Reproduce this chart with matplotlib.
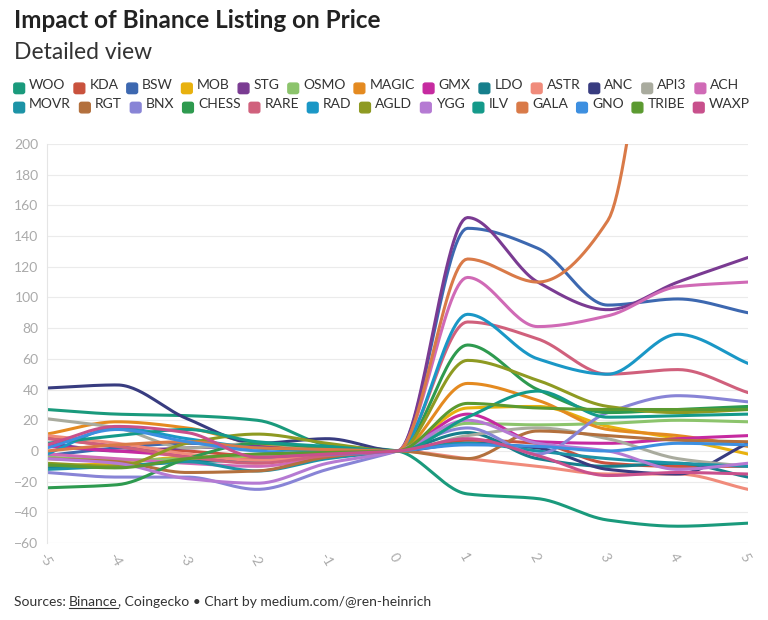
import numpy as np
import matplotlib.pyplot as plt
from matplotlib.patches import FancyBboxPatch

plt.rcParams['font.family'] = 'Lato'

days = [-5, -4, -3, -2, -1, 0, 1, 2, 3, 4, 5]

names = ['WOO', 'KDA', 'BSW', 'MOB', 'STG', 'OSMO', 'MAGIC', 'GMX', 'LDO', 'ASTR', 'ANC', 'API3', 'ACH',
         'MOVR', 'RGT', 'BNX', 'CHESS', 'RARE', 'RAD', 'AGLD', 'YGG', 'ILV', 'GALA', 'GNO', 'TRIBE', 'WAXP']
colors = ['#1a9a7c', '#c9523d', '#3d68b0', '#e8b10e', '#7a3b92', '#8cc46c', '#e48a20', '#c62aa0', '#167f8c',
          '#f08b7b', '#383c80', '#a9ab9e', '#d06ab6', '#1c93a6', '#b3703d', '#8884d6', '#2e9a4f', '#d0607c',
          '#1a97c6', '#8e9a22', '#b57ad3', '#149a8a', '#d97a48', '#3d8fe0', '#5b9a30', '#c8508c']

# % price change relative to listing day
woo = [27, 24, 23, 20, 4, 0, -28, -31, -45, -49, -47]
kda = [9, 3, 0, -3, -2, 0, 7, 5, -8, -10, -10]
bsw = [-3, 2, 5, 2, 0, 0, 145, 132, 95, 99, 90]
mob = [-10, -8, -4, -5, -3, 0, 28, 29, 16, 8, -2]
stg = [5, 0, 2, 3, 2, 0, 152, 110, 92, 110, 126]
osmo = [-4, -6, -5, -3, -2, 0, 18, 17, 18, 20, 19]
magic = [11, 19, 15, 5, 2, 0, 44, 33, 14, 10, 3]
gmx = [3, 0, -3, -6, -3, 0, 24, 6, 5, 8, 10]
ldo = [-11, -10, -7, -6, -3, 0, 12, -5, -10, -8, -17]
astr = [10, 5, -2, -6, -3, 0, -5, -10, -15, -15, -25]
anc = [41, 43, 21, 5, 8, 0, 5, 2, -12, -15, 5]
api3 = [21, 15, 2, 5, 1, 0, 10, 15, 8, -5, -10]
ach = [-2, -5, -8, -10, -4, 0, 113, 81, 88, 107, 110]
movr = [-12, -10, -7, -13, -5, 0, 5, 0, -5, -8, -10]
rgt = [-5, -7, -14, -13, -4, 0, -5, 13, 10, 7, 6]
bnx = [-14, -17, -17, -25, -12, 0, 15, -2, 25, 36, 32]
chess = [-24, -22, -5, 5, 2, 0, 69, 40, 25, 27, 29]
rare = [8, 3, -4, -8, -3, 0, 84, 73, 50, 53, 38]
rad = [-2, 15, 8, 2, 0, 0, 89, 60, 50, 76, 57]
agld = [-8, -10, 5, 11, 5, 0, 59, 46, 29, 25, 27]
ygg = [-5, -8, -18, -21, -8, 0, 20, 5, 0, -12, -8]
ilv = [5, 10, 14, 6, 3, 0, 22, 39, 22, 23, 24]
gala = [0, 4, 6, 2, 1, 0, 125, 110, 150, 400, 450]
gno = [2, 14, 6, 0, -2, 0, 4, 3, 0, 5, 4]
tribe = [-9, -11, -5, -2, -1, 0, 31, 28, 27, 27, 27]
waxp = [4, 16, 12, -4, -2, 0, 8, -3, -16, -14, -15]

series = [woo, kda, bsw, mob, stg, osmo, magic, gmx, ldo, astr, anc, api3, ach,
          movr, rgt, bnx, chess, rare, rad, agld, ygg, ilv, gala, gno, tribe, waxp]


def monotone(x, y, n=30):
    # monotone cubic (Fritsch-Carlson) for smooth curves
    x = np.asarray(x, float)
    y = np.asarray(y, float)
    h = np.diff(x)
    d = np.diff(y) / h
    m = np.zeros_like(y)
    m[0], m[-1] = d[0], d[-1]
    for i in range(1, len(y) - 1):
        if d[i - 1] * d[i] > 0:
            m[i] = 2 / (1 / d[i - 1] + 1 / d[i])
    xs, ys = [], []
    for i in range(len(h)):
        t = np.linspace(0, 1, n, endpoint=False)
        h00 = 2 * t**3 - 3 * t**2 + 1
        h10 = t**3 - 2 * t**2 + t
        h01 = -2 * t**3 + 3 * t**2
        h11 = t**3 - t**2
        xs.append(x[i] + t * h[i])
        ys.append(h00 * y[i] + h10 * h[i] * m[i] + h01 * y[i + 1] + h11 * h[i] * m[i + 1])
    xs.append([x[-1]])
    ys.append([y[-1]])
    return np.concatenate(xs), np.concatenate(ys)


fig = plt.figure(figsize=(7.68, 6.2), dpi=100)
ax = fig.add_axes([0.061, 0.124, 0.913, 0.644])

for vals, c in zip(series, colors):
    xs, ys = monotone(days, vals)
    ax.plot(xs, ys, color=c, lw=2.2, solid_capstyle='round')

ax.set_xlim(-5, 5)
ax.set_ylim(-60, 200)
ax.set_yticks(range(-60, 201, 20))
ax.set_xticks(days)
ax.set_xticklabels([str(d) for d in days], rotation=-60, ha='left', va='top', rotation_mode='anchor')
ax.tick_params(colors='#aaaaaa', labelsize=10, length=0, pad=6)
ax.grid(axis='y', color='#ebebeb', lw=0.8)
for s in ['top', 'right', 'bottom']:
    ax.spines[s].set_visible(False)
ax.spines['left'].set_color('#e5e5e5')

fig.text(0.018, 0.955, 'Impact of Binance Listing on Price', fontsize=17.5, fontweight='bold', color='#222222')
fig.text(0.018, 0.905, 'Detailed view', fontsize=16.5, color='#333333')

# legend, two rows
fig.canvas.draw()
r = fig.canvas.get_renderer()
rows = [(0, 13, 0.853), (13, 26, 0.822)]
for a, b, yy in rows:
    xx = 0.018
    for i in range(a, b):
        fig.patches.append(FancyBboxPatch((xx, yy - 0.004), 0.014, 0.017, boxstyle='round,pad=0,rounding_size=0.003',
                                          transform=fig.transFigure, color=colors[i]))
        t = fig.text(xx + 0.02, yy, names[i], fontsize=10, color='#333333', va='bottom')
        w = t.get_window_extent(r).width / fig.bbox.width
        xx += 0.02 + w + 0.011

t1 = fig.text(0.018, 0.022, 'Sources: ', fontsize=10, color='#333333')
w1 = t1.get_window_extent(r).width / fig.bbox.width
t2 = fig.text(0.018 + w1, 0.022, 'Binance', fontsize=10, color='#333333')
w2 = t2.get_window_extent(r).width / fig.bbox.width
fig.add_artist(plt.Line2D([0.018 + w1, 0.018 + w1 + w2], [0.019, 0.019], color='#333333', lw=0.8))
fig.text(0.018 + w1 + w2, 0.022, ', Coingecko • Chart by medium.com/@ren-heinrich', fontsize=10, color='#333333')

fig.savefig('out.png', dpi=100)
